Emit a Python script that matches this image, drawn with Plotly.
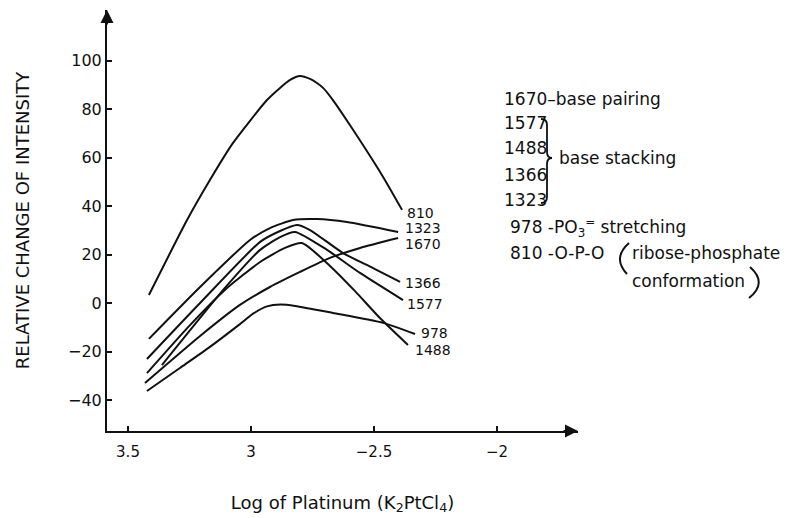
import plotly.graph_objects as go

# ---------------- data ----------------
x_810 = [-3.415, -3.260, -3.167, -3.073, -2.935, -2.882, -2.841, -2.801, -2.760, -2.732, -2.707, -2.667, -2.598, -2.463, -2.386]
y_810 = [3.3, 34.2, 50.7, 66.0, 83.7, 88.7, 92.0, 93.6, 92.4, 90.7, 88.7, 83.7, 73.4, 52.0, 38.4]

x_1323 = [-3.415, -3.207, -3.004, -2.923, -2.829, -2.732, -2.610, -2.402]
y_1323 = [-14.8, 6.6, 26.0, 30.9, 34.2, 34.6, 33.4, 29.3]

x_1366 = [-3.423, -3.207, -2.963, -2.882, -2.813, -2.760, -2.626, -2.504, -2.394]
y_1366 = [-23.1, 0.0, 25.2, 29.7, 32.2, 30.1, 20.6, 14.4, 8.7]

x_1577 = [-3.362, -3.106, -2.963, -2.882, -2.821, -2.691, -2.557, -2.382]
y_1577 = [-25.6, 6.2, 21.9, 27.2, 29.3, 21.9, 12.4, 1.2]

x_1488 = [-3.423, -3.248, -3.106, -2.963, -2.862, -2.793, -2.679, -2.577, -2.476, -2.362]
y_1488 = [-28.9, -9.1, 5.4, 16.9, 22.7, 24.7, 15.3, 4.9, -6.2, -17.3]

x_1670 = [-3.431, -3.207, -3.045, -2.923, -2.801, -2.679, -2.557, -2.402]
y_1670 = [-33.0, -13.6, -0.8, 6.6, 12.8, 18.6, 22.7, 26.8]

x_978 = [-3.423, -3.289, -3.167, -3.045, -2.990, -2.935, -2.880, -2.820, -2.667, -2.463, -2.333]
y_978 = [-36.3, -26.8, -18.1, -8.7, -4.3, -1.4, -0.6, -1.2, -4.1, -8.2, -12.8]

series_names = ["810", "1323", "1670", "1366", "1577", "978", "1488"]
series_x = [x_810, x_1323, x_1670, x_1366, x_1577, x_978, x_1488]
series_y = [y_810, y_1323, y_1670, y_1366, y_1577, y_978, y_1488]
label_shift = [(3, -3), (5, 4), (5, -6), (3, -1), (2, -4), (4, 1), (5, -5)]

x_tickvals = [-3.5, -3.0, -2.5, -2.0]
x_ticktext = ["3.5", "3", "\u22122.5", "\u22122"]
y_tickvals = [-40, -20, 0, 20, 40, 60, 80, 100]

FONT = "DejaVu Sans"
INK = "#111111"

# plot-area geometry in reference pixels, and page offset (body margin)
L, R, T, B = 107, 578, 10, 431
OFF = 8
W, H = 800, 518


def pxx(px):
    return (px - L) / (R - L)


def pxy(py):
    return (B - py) / (B - T)


fig = go.Figure()
for name, xs, ys in zip(series_names, series_x, series_y):
    fig.add_trace(go.Scatter(
        x=xs, y=ys, mode="lines", name=name,
        line=dict(color=INK, width=2, shape="spline", smoothing=0.6),
        showlegend=False, hoverinfo="skip"))

annotations = []
for name, xs, ys, (dx, dy) in zip(series_names, series_x, series_y, label_shift):
    annotations.append(dict(
        x=xs[-1], y=ys[-1], xref="x", yref="y", text=name, showarrow=False,
        xanchor="left", yanchor="middle", xshift=dx, yshift=dy,
        font=dict(family=FONT, size=14, color=INK)))

# axis arrowheads
annotations.append(dict(x=1, y=0, xref="paper", yref="paper", text="",
                        showarrow=True, ax=-16, ay=0, arrowhead=2, arrowsize=1.3,
                        arrowwidth=2, arrowcolor=INK, standoff=0))
annotations.append(dict(x=0, y=1, xref="paper", yref="paper", text="",
                        showarrow=True, ax=0, ay=16, arrowhead=2, arrowsize=1.3,
                        arrowwidth=2, arrowcolor=INK, standoff=0))

# right-hand key text
key_font = dict(family=FONT, size=17, color=INK)
key_items = [
    (502, 99, "1670\u2013base pairing"),
    (502, 123, "1577"),
    (502, 148, "1488"),
    (502, 175, "1366"),
    (502, 200, "1323"),
    (557, 158, "base stacking"),
    (508, 228, "978 -PO<sub>3</sub><sup>=</sup> stretching"),
    (508, 253, "810 -O-P-O"),
    (630, 253, "ribose-phosphate"),
    (630, 281, "conformation"),
]
for px, py, txt in key_items:
    annotations.append(dict(x=pxx(px), y=pxy(py), xref="paper", yref="paper",
                            text=txt, showarrow=False, xanchor="left",
                            yanchor="middle", font=key_font))


def path(points_cmds):
    out = []
    for cmd, pts in points_cmds:
        coords = " ".join(f"{pxx(a):.4f},{pxy(b):.4f}" for a, b in pts)
        out.append(f"{cmd} {coords}")
    return " ".join(out)


shapes = [
    # brace for base stacking
    dict(type="path", xref="paper", yref="paper",
         path=path([("M", [(541, 119)]), ("Q", [(547, 119), (547, 125)]),
                    ("L", [(547, 152)]), ("Q", [(547, 158), (552, 158)]),
                    ("Q", [(547, 158), (547, 164)]), ("L", [(547, 197)]),
                    ("Q", [(547, 203), (541, 203)])]),
         line=dict(color=INK, width=1.8)),
    # large parentheses around ribose-phosphate conformation
    dict(type="path", xref="paper", yref="paper",
         path=path([("M", [(629, 243)]), ("Q", [(612, 258), (627, 274)])]),
         line=dict(color=INK, width=2)),
    dict(type="path", xref="paper", yref="paper",
         path=path([("M", [(750, 267)]), ("Q", [(768, 283), (749, 298)])]),
         line=dict(color=INK, width=2)),
]

x0 = -3.5 + (L - 128) / 246
x1 = -3.5 + (R - 128) / 246
y0 = (303 - B) * 20 / 48.5
y1 = (303 - T) * 20 / 48.5

fig.update_layout(
    width=W, height=H, autosize=False,
    margin=dict(l=L - OFF, r=W - R + OFF, t=T - OFF, b=H - B + OFF, pad=0),
    paper_bgcolor="white", plot_bgcolor="white",
    font=dict(family=FONT, color=INK),
    annotations=annotations, shapes=shapes,
    xaxis=dict(range=[x0, x1], showgrid=False, zeroline=False,
               showline=True, linecolor=INK, linewidth=2,
               ticks="inside", ticklen=5, tickwidth=1.5, tickcolor=INK,
               tickvals=x_tickvals, ticktext=x_ticktext, ticklabelstandoff=6,
               tickfont=dict(family=FONT, size=15, color=INK),
               title=dict(text="Log of Platinum (K<sub>2</sub>PtCl<sub>4</sub>)",
                          font=dict(family=FONT, size=18, color=INK), standoff=36)),
    yaxis=dict(range=[y0, y1], showgrid=False, zeroline=False,
               showline=True, linecolor=INK, linewidth=2,
               ticks="inside", ticklen=5, tickwidth=1.5, tickcolor=INK,
               tickvals=y_tickvals,
               tickfont=dict(family=FONT, size=16, color=INK),
               title=dict(text="RELATIVE CHANGE OF INTENSITY",
                          font=dict(family=FONT, size=18, color=INK), standoff=34)),
)

fig.write_html("out.html")
